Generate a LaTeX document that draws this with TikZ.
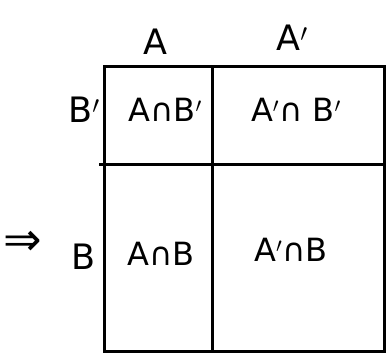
\documentclass[tikz,border=0pt]{standalone}
\usepackage{fontspec}
\setmainfont{DejaVu Sans}
\begin{document}
\begin{tikzpicture}[x=1pt,y=-1pt,
  grid/.style={line width=3pt,black},
  lbl/.style={font=\fontsize{35}{38}\selectfont,inner sep=0pt},
  cell/.style={font=\fontsize{32}{34}\selectfont,inner sep=0pt}]
\useasboundingbox (0,0) rectangle (386,354);
\coordinate (tl) at (104,66);
\coordinate (br) at (384.5,351.5);
\coordinate (mt) at (212,66);
\coordinate (mb) at (212,351.5);
\coordinate (hl) at (99,164);
\coordinate (hr) at (384.5,164);
\draw[grid] (tl) rectangle (br);
\draw[grid] (mt) -- (mb);
\draw[grid] (hl) -- (hr);
\node[lbl] (a) at (155,42) {A};
\node[lbl] (ap) at (292,38) {A$'$};
\node[lbl] (bp) at (84,110) {B$'$};
\node[lbl] (b) at (84,257) {B};
\node[lbl,font=\fontsize{46}{48}\selectfont] (imp) at (23,243) {⇒};
\node[cell] (c11) at (165,110) {A∩B$'$};
\node[cell] (c12) at (296,110) {A$'$∩ B$'$};
\node[cell] (c21) at (161,254) {A∩B};
\node[cell] (c22) at (291,250) {A$'$∩B};
\end{tikzpicture}
\end{document}
